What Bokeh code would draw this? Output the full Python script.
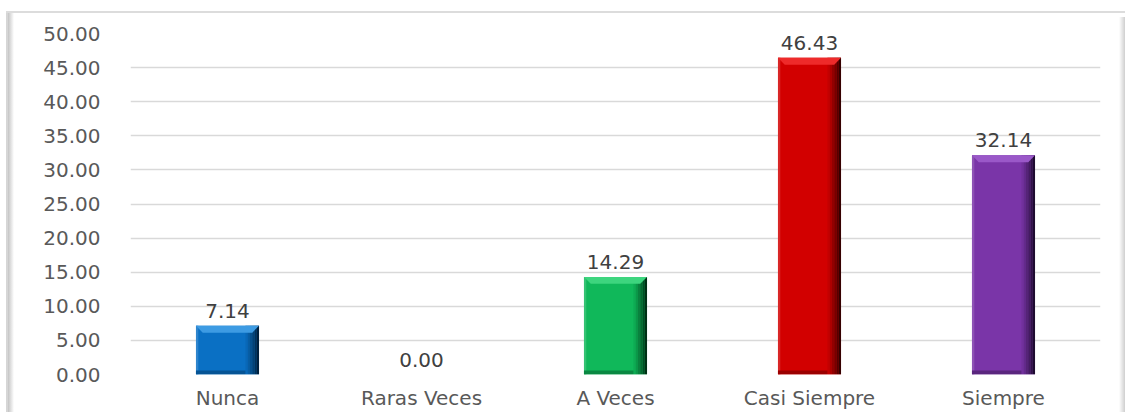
import numpy as np
from bokeh.plotting import figure
from bokeh.models import Range1d, FixedTicker, ColumnDataSource, LabelSet
from bokeh.core.properties import value
from bokeh.embed import file_html
from bokeh.resources import INLINE

categories = ["Nunca", "Raras Veces", "A Veces", "Casi Siempre", "Siempre"]
values = [7.14, 0.00, 14.29, 46.43, 32.14]
value_labels = ["7.14", "0.00", "14.29", "46.43", "32.14"]
bar_colors = ["#0a70c4", "#c00000", "#10b85a", "#d20000", "#7a35a8"]
top_colors = ["#3d9be3", "#e03030", "#3dd57e", "#ee2a2a", "#9a58c8"]
dark_colors = ["#00203d", "#300000", "#003015", "#350000", "#1e0b30"]
y_ticks = [0, 5, 10, 15, 20, 25, 30, 35, 40, 45, 50]


def mix(c1, c2, t):
    a = [int(c1[i:i + 2], 16) for i in (1, 3, 5)]
    b = [int(c2[i:i + 2], 16) for i in (1, 3, 5)]
    return "#" + "".join("%02x" % int(round(a[k] + (b[k] - a[k]) * t)) for k in range(3))


W, H = 1125, 412
p = figure(width=W, height=H, output_backend="svg", toolbar_location=None,
           x_range=Range1d(0, 5), y_range=Range1d(0, 50),
           min_border_left=130, min_border_right=25, min_border_top=33, min_border_bottom=34)
p.outline_line_color = None
p.background_fill_color = "white"
p.border_fill_color = "white"
p.border_fill_alpha = 0.0

# outer chart frame drawn as CSS background behind the transparent canvas border
p.styles = {
    "background-color": "white",
    "background-image": ("linear-gradient(#dcdcdc, #dcdcdc), "
                         "linear-gradient(#d6d6d6, #d6d6d6), "
                         "linear-gradient(to right, #c4c4c4, #ffffff), "
                         "linear-gradient(to right, #ffffff, #cfcfcf)"),
    "background-size": "1125px 2px, 2px 420px, 6px 420px, 6px 420px",
    "background-position": "6px 11px, 6px 11px, 8px 13px, 1119px 17px",
    "background-repeat": "no-repeat",
}

xs = [i + 0.5 for i in range(len(categories))]
bw = 0.325
half = bw / 2

# main bars
src = ColumnDataSource(dict(x=xs, top=values, color=bar_colors))
p.vbar(x="x", top="top", bottom=0, width=bw, fill_color="color", line_color=None, source=src)

# bevel shading for each bar
nz = [i for i, v in enumerate(values) if v > 0]
strips = 6
sw = 0.07 / strips
for s in range(strips):
    t = (s + 1) / strips
    p.quad(left=[xs[i] + half - 0.07 + s * sw for i in nz],
           right=[xs[i] + half - 0.07 + (s + 1) * sw for i in nz],
           bottom=[0 for i in nz], top=[values[i] for i in nz],
           fill_color=[mix(bar_colors[i], dark_colors[i], t ** 1.3) for i in nz], line_color=None)
# left highlight
p.quad(left=[xs[i] - half for i in nz], right=[xs[i] - half + 0.012 for i in nz],
       bottom=[0 for i in nz], top=[values[i] for i in nz],
       fill_color=[mix(bar_colors[i], "#ffffff", 0.15) for i in nz], line_color=None)
# bottom darker band
p.quad(left=[xs[i] - half for i in nz], right=[xs[i] + half - 0.07 for i in nz],
       bottom=[0 for i in nz], top=[min(0.6, values[i]) for i in nz],
       fill_color=[mix(bar_colors[i], dark_colors[i], 0.35) for i in nz], line_color=None)
# top bevel trapezoid
bh = 1.0
inset = 0.035
p.patches(xs=[[xs[i] - half, xs[i] + half, xs[i] + half - inset, xs[i] - half + inset] for i in nz],
          ys=[[values[i], values[i], values[i] - bh, values[i] - bh] for i in nz],
          fill_color=[top_colors[i] for i in nz], line_color=None)

# value labels
lsrc = ColumnDataSource(dict(x=xs, y=values, t=value_labels))
p.add_layout(LabelSet(x="x", y="y", text="t", source=lsrc, y_offset=8,
                      text_align="center", text_baseline="bottom",
                      text_font=value("DejaVu Sans"), text_font_size="20px", text_color="#404040"))

# axes
p.xaxis.ticker = FixedTicker(ticks=xs)
p.xaxis.major_label_overrides = {x: c for x, c in zip(xs, categories)}
p.xaxis.axis_line_color = None
p.xaxis.major_tick_out = 0
p.xaxis.major_tick_in = 0
p.xaxis.major_tick_line_color = None
p.xaxis.minor_tick_line_color = None
p.xaxis.major_label_text_font = "DejaVu Sans"
p.xaxis.major_label_text_font_size = "20px"
p.xaxis.major_label_text_color = "#595959"
p.xaxis.major_label_standoff = 11

p.yaxis.ticker = FixedTicker(ticks=y_ticks)
p.yaxis.major_label_overrides = {t: "%.2f" % t for t in y_ticks}
p.yaxis.axis_line_color = None
p.yaxis.major_tick_out = 0
p.yaxis.major_tick_in = 0
p.yaxis.major_tick_line_color = None
p.yaxis.minor_tick_line_color = None
p.yaxis.major_label_text_font = "DejaVu Sans"
p.yaxis.major_label_text_font_size = "20px"
p.yaxis.major_label_text_color = "#595959"
p.yaxis.major_label_standoff = 30

p.xgrid.grid_line_color = None
p.ygrid.ticker = FixedTicker(ticks=y_ticks)
p.ygrid.grid_line_color = "#d9d9d9"
p.ygrid.grid_line_width = 1.5

open("out.html", "w").write(file_html(p, INLINE))
